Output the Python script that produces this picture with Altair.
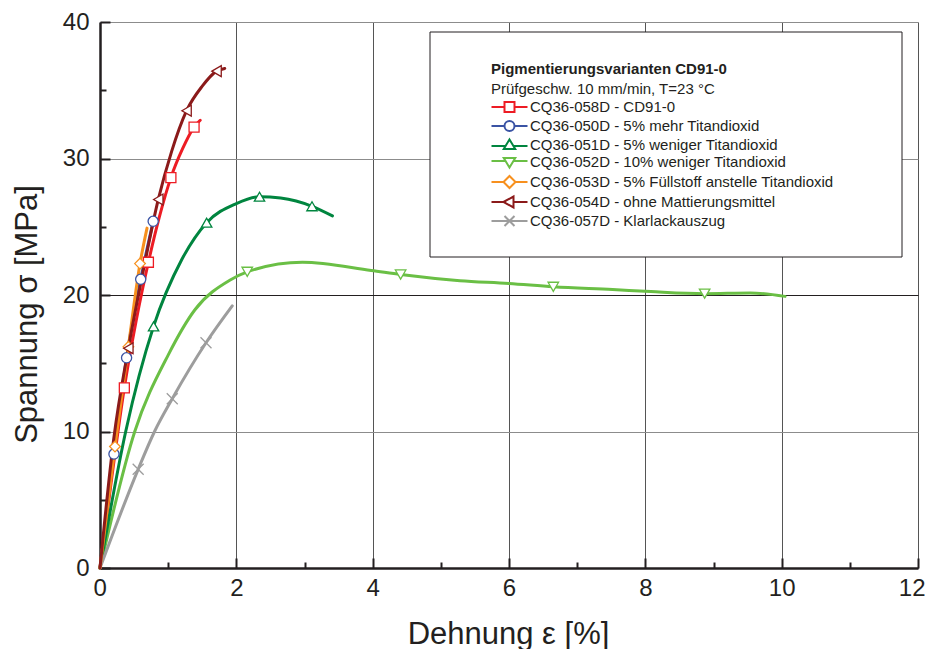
import altair as alt
import pandas as pd

# ---------------- data ----------------
series = [
    "CQ36-058D - CD91-0",
    "CQ36-050D - 5% mehr Titandioxid",
    "CQ36-051D - 5% weniger Titandioxid",
    "CQ36-052D - 10% weniger Titandioxid",
    "CQ36-053D - 5% Füllstoff anstelle Titandioxid",
    "CQ36-054D - ohne Mattierungsmittel",
    "CQ36-057D - Klarlackauszug",
]
colors = ["#ed1c24", "#3a53a4", "#00853f", "#6abf45", "#f7901e", "#8b1a1a", "#9d9d9d"]

legend_title = "Pigmentierungsvarianten CD91-0"
legend_subtitle = "Prüfgeschw. 10 mm/min, T=23 °C"
x_title = "Dehnung ε [%]"
y_title = "Spannung σ [MPa]"
x_major = [0, 2, 4, 6, 8, 10, 12]
x_minor = [1, 3, 5, 7, 9, 11]
y_major = [0, 10, 20, 30, 40]
y_minor = [5, 15, 25, 35]

# curves (strain %, stress MPa)
red_x = [0, 0.18, 0.357, 0.53, 0.71, 0.87, 1.04, 1.21, 1.38, 1.47]
red_y = [0, 6.9, 13.2, 18.1, 22.4, 25.7, 28.6, 30.7, 32.3, 32.8]
blue_x = [0, 0.205, 0.39, 0.597, 0.79]
blue_y = [0, 8.35, 15.4, 21.15, 25.6]
dgreen_x = [0, 0.377, 0.786, 1.2, 1.565, 2.0, 2.34, 2.65, 3.11, 3.41]
dgreen_y = [0, 10.0, 17.7, 22.6, 25.3, 26.7, 27.2, 27.1, 26.5, 25.8]
lgreen_x = [0, 0.51, 1.0, 1.39, 1.91, 2.16, 2.97, 3.98, 4.41, 5.28, 6.0, 6.65, 7.52, 8.08, 8.87, 9.54, 10.05]
lgreen_y = [0, 10.0, 15.6, 18.9, 21.1, 21.7, 22.4, 21.8, 21.5, 21.05, 20.85, 20.6, 20.4, 20.25, 20.1, 20.15, 19.9]
orange_x = [0, 0.22, 0.416, 0.587, 0.69]
orange_y = [0, 8.9, 16.2, 22.3, 24.9]
dred_x = [0, 0.2, 0.416, 0.62, 0.855, 1.05, 1.27, 1.5, 1.71, 1.83]
dred_y = [0, 9.4, 16.1, 21.4, 27.0, 30.5, 33.5, 35.3, 36.4, 36.6]
gray_x = [0, 0.56, 0.80, 1.06, 1.555, 1.94]
gray_y = [0, 7.23, 10.0, 12.4, 16.5, 19.2]

# marker positions
red_mx = [0.357, 0.71, 1.04, 1.38]
red_my = [13.2, 22.4, 28.6, 32.3]
blue_mx = [0.205, 0.39, 0.597, 0.78]
blue_my = [8.35, 15.4, 21.15, 25.4]
dgreen_mx = [0.786, 1.565, 2.34, 3.11]
dgreen_my = [17.7, 25.3, 27.2, 26.5]
lgreen_mx = [2.16, 4.41, 6.65, 8.87]
lgreen_my = [21.7, 21.5, 20.6, 20.1]
orange_mx = [0.22, 0.416, 0.587]
orange_my = [8.9, 16.2, 22.3]
dred_mx = [0.416, 0.855, 1.27, 1.71]
dred_my = [16.1, 27.0, 33.5, 36.4]
gray_mx = [0.56, 1.06, 1.555]
gray_my = [7.23, 12.4, 16.5]

# ---------------- styles ----------------
X_PATH = "M-1,-1L1,1M-1,1L1,-1"
marker_shapes = ["square", "circle", "triangle-up", "triangle-down", "diamond", "triangle-left", X_PATH]
marker_sizes = [100, 121, 150, 150, 190, 150, 144]
legend_shapes = [
    "M-3.6,0H-1M1,0H3.6M-1,-1H1V1H-1Z",
    "M-3.6,0H-1M1,0H3.6M1,0A1,1,0,1,1,-1,0A1,1,0,1,1,1,0Z",
    "M-3.6,0.2H-0.8M0.8,0.2H3.6M0,-1.1L1.15,0.8H-1.15Z",
    "M-3.6,-0.2H-0.8M0.8,-0.2H3.6M0,1.1L1.15,-0.8H-1.15Z",
    "M-3.6,0H-1.2M1.2,0H3.6M0,-1.2L1.2,0L0,1.2L-1.2,0Z",
    "M-3.6,0H-1.2M0.8,0H3.6M-1.2,0L0.8,-1.1V1.1Z",
    "M-3.6,0H3.6M-1,-1L1,1M-1,1L1,-1",
]

draw_order = [1, 0, 3, 2, 6, 4, 5]
curves = [(red_x, red_y), (blue_x, blue_y), (dgreen_x, dgreen_y), (lgreen_x, lgreen_y),
          (orange_x, orange_y), (dred_x, dred_y), (gray_x, gray_y)]
marks = [(red_mx, red_my), (blue_mx, blue_my), (dgreen_mx, dgreen_my), (lgreen_mx, lgreen_my),
         (orange_mx, orange_my), (dred_mx, dred_my), (gray_mx, gray_my)]

line_rows, mark_rows = [], []
for i in draw_order:
    xs, ys = curves[i]
    for k, (a, b) in enumerate(zip(xs, ys)):
        line_rows.append({"series": series[i], "x": a, "y": b, "k": k})
    mxs, mys = marks[i]
    for a, b in zip(mxs, mys):
        mark_rows.append({"series": series[i], "x": a, "y": b})
lines_df = pd.DataFrame(line_rows)
marks_df = pd.DataFrame(mark_rows)

FONT = "Liberation Sans"
INK = "#231f20"
xscale = alt.Scale(domain=[0, 12], nice=False, zero=False)
yscale = alt.Scale(domain=[0, 40], nice=False, zero=False)

# main axes: labels, titles, grid, domain
x_main = alt.Axis(values=x_major, orient="bottom", grid=True, gridColor="#555555", gridWidth=1,
                  ticks=False, tickSize=0, domain=True, domainColor=INK, domainWidth=2.5,
                  labelFont=FONT, labelFontSize=24, labelColor=INK, labelPadding=8,
                  labelFlush=True, labelFlushOffset=7, labelOverlap=False,
                  title=x_title, titleFont=FONT, titleFontSize=31, titleFontWeight="normal",
                  titleColor=INK, titleX=408, titleY=75, titleBaseline="alphabetic", titleAlign="center")
y_main = alt.Axis(values=y_major, orient="left", grid=True,
                  gridColor={"condition": {"test": "datum.value === 20", "value": INK}, "value": "#8c8c8c"},
                  gridWidth=1, ticks=False, tickSize=0, domain=True, domainColor=INK, domainWidth=2.5,
                  labelFont=FONT, labelFontSize=24, labelColor=INK, labelPadding=11,
                  labelFlush=False, labelOverlap=False, labelBaseline="middle",
                  title=y_title, titleFont=FONT, titleFontSize=31, titleFontWeight="normal",
                  titleColor=INK, titleAngle=270, titleX=-64, titleY=292,
                  titleBaseline="alphabetic", titleAlign="center")
x_maj_ticks = alt.Axis(values=x_major, orient="bottom", offset=-10, tickSize=10, tickWidth=2,
                       tickColor=INK, labels=False, domain=False, grid=False, title=None)
y_maj_ticks = alt.Axis(values=y_major, orient="left", offset=-10, tickSize=10, tickWidth=2,
                       tickColor=INK, labels=False, domain=False, grid=False, title=None)
x_min_ticks = alt.Axis(values=x_minor, orient="bottom", offset=-6, tickSize=6, tickWidth=2,
                       tickColor=INK, labels=False, domain=False, grid=False, title=None)
y_min_ticks = alt.Axis(values=y_minor, orient="left", offset=-6, tickSize=6, tickWidth=2,
                       tickColor=INK, labels=False, domain=False, grid=False, title=None)

lines = alt.Chart(lines_df).mark_line(strokeWidth=3, interpolate="monotone", strokeCap="round").encode(
    x=alt.X("x:Q", scale=xscale, axis=x_main),
    y=alt.Y("y:Q", scale=yscale, axis=y_main),
    color=alt.Color("series:N", scale=alt.Scale(domain=series, range=colors), legend=None),
    order=alt.Order("k:Q"),
    detail="series:N",
)

markers = alt.Chart(marks_df).mark_point(filled=True, fill="white", strokeWidth=1.3, opacity=1).encode(
    x=alt.X("x:Q", scale=xscale, axis=x_maj_ticks),
    y=alt.Y("y:Q", scale=yscale, axis=y_maj_ticks),
    stroke=alt.Stroke("series:N", scale=alt.Scale(domain=series, range=colors), legend=None),
    shape=alt.Shape("series:N", scale=alt.Scale(domain=series, range=marker_shapes), legend=None),
    size=alt.Size("series:N", scale=alt.Scale(domain=series, range=marker_sizes), legend=None),
)

leg_props = dict(orient="none", legendX=402, legendY=77.5, title=None, symbolSize=100,
                 symbolStrokeWidth=2, symbolOpacity=1, labelFont=FONT, labelFontSize=15,
                 labelColor=INK, labelOffset=13, rowPadding=0, padding=0, labelLimit=400)

legend_layer = alt.Chart(marks_df).mark_point(filled=False, opacity=0).encode(
    x=alt.X("x:Q", scale=xscale, axis=x_min_ticks),
    y=alt.Y("y:Q", scale=yscale, axis=y_min_ticks),
    color=alt.Color("series:N", scale=alt.Scale(domain=series, range=colors), legend=alt.Legend(**leg_props)),
    shape=alt.Shape("series:N", scale=alt.Scale(domain=series, range=legend_shapes), legend=alt.Legend(**leg_props)),
)

one = pd.DataFrame({"a": [0]})
box = alt.Chart(one).mark_rect(fill="white", stroke=INK, strokeWidth=1).encode(
    x=alt.value(330), x2=alt.value(802), y=alt.value(10), y2=alt.value(235))
head1 = alt.Chart(one).mark_text(align="left", baseline="middle", font=FONT, fontSize=15,
                                 fontWeight="bold", color=INK).encode(
    x=alt.value(391), y=alt.value(47), text=alt.value(legend_title))
head2 = alt.Chart(one).mark_text(align="left", baseline="middle", font=FONT, fontSize=15,
                                 color=INK).encode(
    x=alt.value(391), y=alt.value(67), text=alt.value(legend_subtitle))

chart = alt.layer(box, head1, head2, lines, markers, legend_layer).resolve_scale(
    color="independent", shape="independent", stroke="independent", size="independent"
).resolve_axis(x="independent", y="independent").properties(
    width=818, height=546, autosize="none",
    padding={"left": 92, "top": 14, "right": 7, "bottom": 81},
).configure_view(stroke=INK, strokeWidth=2).configure(background="white")

chart.save("out.html", embed_options={"renderer": "svg", "actions": False})
